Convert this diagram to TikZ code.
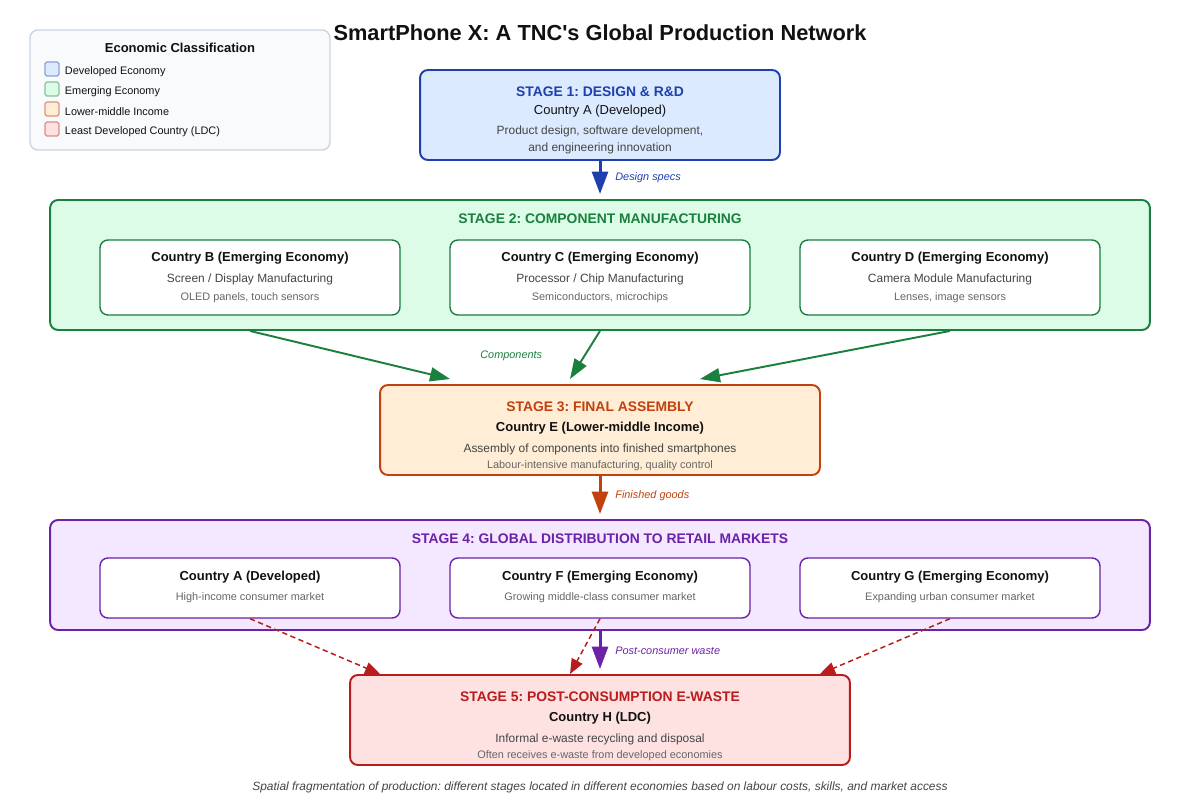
\documentclass[tikz,border=0pt]{standalone}
\usepackage{fontspec}
\setmainfont{Liberation Sans}[Ligatures=TeXOff]
\usetikzlibrary{arrows.meta}
\frenchspacing
\definecolor{dblue}{HTML}{1E40AF}
\definecolor{lblue}{HTML}{DBEAFE}
\definecolor{dgreen}{HTML}{1A7F3F}
\definecolor{lgreen}{HTML}{DCFCE7}
\definecolor{dorange}{HTML}{C2410C}
\definecolor{lorange}{HTML}{FFEDD5}
\definecolor{dpurple}{HTML}{6B21A8}
\definecolor{lpurple}{HTML}{F3E8FF}
\definecolor{dred}{HTML}{B91C1C}
\definecolor{lred}{HTML}{FEE2E2}
\definecolor{txtdark}{HTML}{111111}
\definecolor{txtmid}{HTML}{444444}
\definecolor{txtlight}{HTML}{666666}
\definecolor{legfill}{HTML}{F8FAFC}
\definecolor{legline}{HTML}{CBD5E1}

\begin{document}
\begin{tikzpicture}[x=0.02cm,y=-0.02cm,
    box/.style={rounded corners=4.5pt,line width=1.1pt,inner sep=0pt},
    inbox/.style={box,fill=white,line width=0.8pt,minimum width=6cm},
    head/.style={yshift=-0.03cm,font=\bfseries\fontsize{7.9}{9}\selectfont},
    ctry/.style={yshift=-0.03cm,font=\bfseries\fontsize{7.4}{9}\selectfont,text=txtdark},
    desc/.style={yshift=-0.03cm,font=\fontsize{6.8}{8}\selectfont,text=txtmid},
    small/.style={yshift=-0.03cm,font=\fontsize{6.2}{7.5}\selectfont,text=txtlight},
    flowlbl/.style={anchor=west,inner sep=0pt,font=\itshape\fontsize{6.2}{7.5}\selectfont},
    swatch/.style 2 args={draw=#1,fill=#2,line width=0.7pt,rounded corners=1pt,minimum size=0.28cm,inner sep=0pt},
    legitem/.style={anchor=west,inner sep=0pt,yshift=-0.05cm,font=\fontsize{6.2}{7.5}\selectfont,text=txtdark}]
  \useasboundingbox (0,0) rectangle (1200,800);

  % title
  \node (title) at (600,33) [font=\bfseries\fontsize{12.4}{14}\selectfont,text=txtdark] {SmartPhone X: A TNC's Global Production Network};

  % legend
  \node (leg) at (180,90) [draw=legline,fill=legfill,rounded corners=4.5pt,line width=0.8pt,minimum width=6cm,minimum height=2.4cm] {};
  \node (legt) at (180,48) [font=\bfseries\fontsize{7.4}{9}\selectfont,text=txtdark] {Economic Classification};
  \node (sw1) at (52,69) [swatch={dblue!50}{lblue}] {};
  \node (sw2) at (52,89) [swatch={dgreen!50}{lgreen}] {};
  \node (sw3) at (52,109) [swatch={dorange!55}{lorange}] {};
  \node (sw4) at (52,129) [swatch={dred!50}{lred}] {};
  \node (lb1) at ([xshift=0.1cm]sw1.east) [legitem] {Developed Economy};
  \node (lb2) at ([xshift=0.1cm]sw2.east) [legitem] {Emerging Economy};
  \node (lb3) at ([xshift=0.1cm]sw3.east) [legitem] {Lower-middle Income};
  \node (lb4) at ([xshift=0.1cm]sw4.east) [legitem] {Least Developed Country (LDC)};

  % stage 1
  \node (s1) at (600,115) [box,draw=dblue,fill=lblue,minimum width=7.2cm,minimum height=1.8cm] {};
  \node (s1h) at (600,90) [head,text=dblue] {STAGE 1: DESIGN \& R\&D};
  \node (s1c) at (600,110) [yshift=-0.03cm,font=\fontsize{7.4}{9}\selectfont,text=txtdark] {Country A (Developed)};
  \node (s1d) at (600,130) [desc] {Product design, software development,};
  \node (s1e) at (600,147) [desc] {and engineering innovation};

  % stage 2
  \node (s2) at (600,265) [box,draw=dgreen,fill=lgreen,minimum width=22cm,minimum height=2.6cm] {};
  \node (s2h) at (600,217) [head,text=dgreen] {STAGE 2: COMPONENT MANUFACTURING};
  \node (cb) at (250,277.5) [inbox,draw=dgreen,minimum height=1.5cm] {};
  \node (cc) at (600,277.5) [inbox,draw=dgreen,minimum height=1.5cm] {};
  \node (cd) at (950,277.5) [inbox,draw=dgreen,minimum height=1.5cm] {};
  \node (cbt) at (250,257) [ctry] {Country B (Emerging Economy)};
  \node (cbd) at (250,278) [desc] {Screen / Display Manufacturing};
  \node (cbs) at (250,296) [small] {OLED panels, touch sensors};
  \node (cct) at (600,257) [ctry] {Country C (Emerging Economy)};
  \node (ccd) at (600,278) [desc] {Processor / Chip Manufacturing};
  \node (ccs) at (600,296) [small] {Semiconductors, microchips};
  \node (cdt) at (950,257) [ctry] {Country D (Emerging Economy)};
  \node (cdd) at (950,278) [desc] {Camera Module Manufacturing};
  \node (cds) at (950,296) [small] {Lenses, image sensors};

  % stage 3
  \node (s3) at (600,430) [box,draw=dorange,fill=lorange,minimum width=8.8cm,minimum height=1.8cm] {};
  \node (s3h) at (600,405) [head,text=dorange] {STAGE 3: FINAL ASSEMBLY};
  \node (s3c) at (600,427) [ctry] {Country E (Lower-middle Income)};
  \node (s3d) at (600,448) [desc] {Assembly of components into finished smartphones};
  \node (s3e) at (600,464) [small] {Labour-intensive manufacturing, quality control};

  % stage 4
  \node (s4) at (600,575) [box,draw=dpurple,fill=lpurple,minimum width=22cm,minimum height=2.2cm] {};
  \node (s4h) at (600,537) [head,text=dpurple] {STAGE 4: GLOBAL DISTRIBUTION TO RETAIL MARKETS};
  \node (ma) at (250,588) [inbox,draw=dpurple,minimum height=1.2cm] {};
  \node (mf) at (600,588) [inbox,draw=dpurple,minimum height=1.2cm] {};
  \node (mg) at (950,588) [inbox,draw=dpurple,minimum height=1.2cm] {};
  \node (mat) at (250,576) [ctry] {Country A (Developed)};
  \node (mas) at (250,596) [small] {High-income consumer market};
  \node (mft) at (600,576) [ctry] {Country F (Emerging Economy)};
  \node (mfs) at (600,596) [small] {Growing middle-class consumer market};
  \node (mgt) at (950,576) [ctry] {Country G (Emerging Economy)};
  \node (mgs) at (950,596) [small] {Expanding urban consumer market};

  % stage 5
  \node (s5) at (600,720) [box,draw=dred,fill=lred,minimum width=10cm,minimum height=1.8cm] {};
  \node (s5h) at (600,695) [head,text=dred] {STAGE 5: POST-CONSUMPTION E-WASTE};
  \node (s5c) at (600,717) [ctry] {Country H (LDC)};
  \node (s5d) at (600,738) [desc] {Informal e-waste recycling and disposal};
  \node (s5e) at (600,754) [small] {Often receives e-waste from developed economies};

  % flows
  \draw[-{Triangle[length=0.45cm,width=0.32cm]},line width=1.7pt,dblue] (s1.south) -- ([yshift=0.1cm]s2.north);
  \node (l1) at (615,178) [flowlbl,text=dblue] {Design specs};

  \draw[-{Triangle[length=0.4cm,width=0.28cm]},line width=1.1pt,dgreen] (cb.south |- s2.south) -- ([xshift=-3cm,yshift=0.1cm]s3.north);
  \draw[-{Triangle[length=0.4cm,width=0.28cm]},line width=1.1pt,dgreen] (cc.south |- s2.south) -- ([xshift=-0.6cm,yshift=0.1cm]s3.north);
  \draw[-{Triangle[length=0.4cm,width=0.28cm]},line width=1.1pt,dgreen] (cd.south |- s2.south) -- ([xshift=2cm,yshift=0.1cm]s3.north);
  \node (l2) at (480,356) [flowlbl,text=dgreen] {Components};

  \draw[-{Triangle[length=0.45cm,width=0.32cm]},line width=1.7pt,dorange] (s3.south) -- ([yshift=0.1cm]s4.north);
  \node (l3) at (615,496) [flowlbl,text=dorange] {Finished goods};

  \draw[-{Triangle[length=0.3cm,width=0.24cm]},line width=0.85pt,dred,dash pattern=on 3pt off 2pt] (ma.south) -- ([xshift=-4.4cm]s5.north);
  \draw[-{Triangle[length=0.3cm,width=0.24cm]},line width=0.85pt,dred,dash pattern=on 3pt off 2pt] (mf.south) -- ([xshift=-0.6cm]s5.north);
  \draw[-{Triangle[length=0.3cm,width=0.24cm]},line width=0.85pt,dred,dash pattern=on 3pt off 2pt] (mg.south) -- ([xshift=4.4cm]s5.north);

  \draw[-{Triangle[length=0.45cm,width=0.32cm]},line width=1.7pt,dpurple] (mf.south |- s4.south) -- ([yshift=0.1cm]s5.north);
  \node (l4) at (615,651) [flowlbl,text=dpurple] {Post-consumer waste};

  % footer
  \node (foot) at (600,786) [yshift=-0.03cm,font=\itshape\fontsize{6.8}{8}\selectfont,text=txtmid] {Spatial fragmentation of production: different stages located in different economies based on labour costs, skills, and market access};
\end{tikzpicture}
\end{document}
